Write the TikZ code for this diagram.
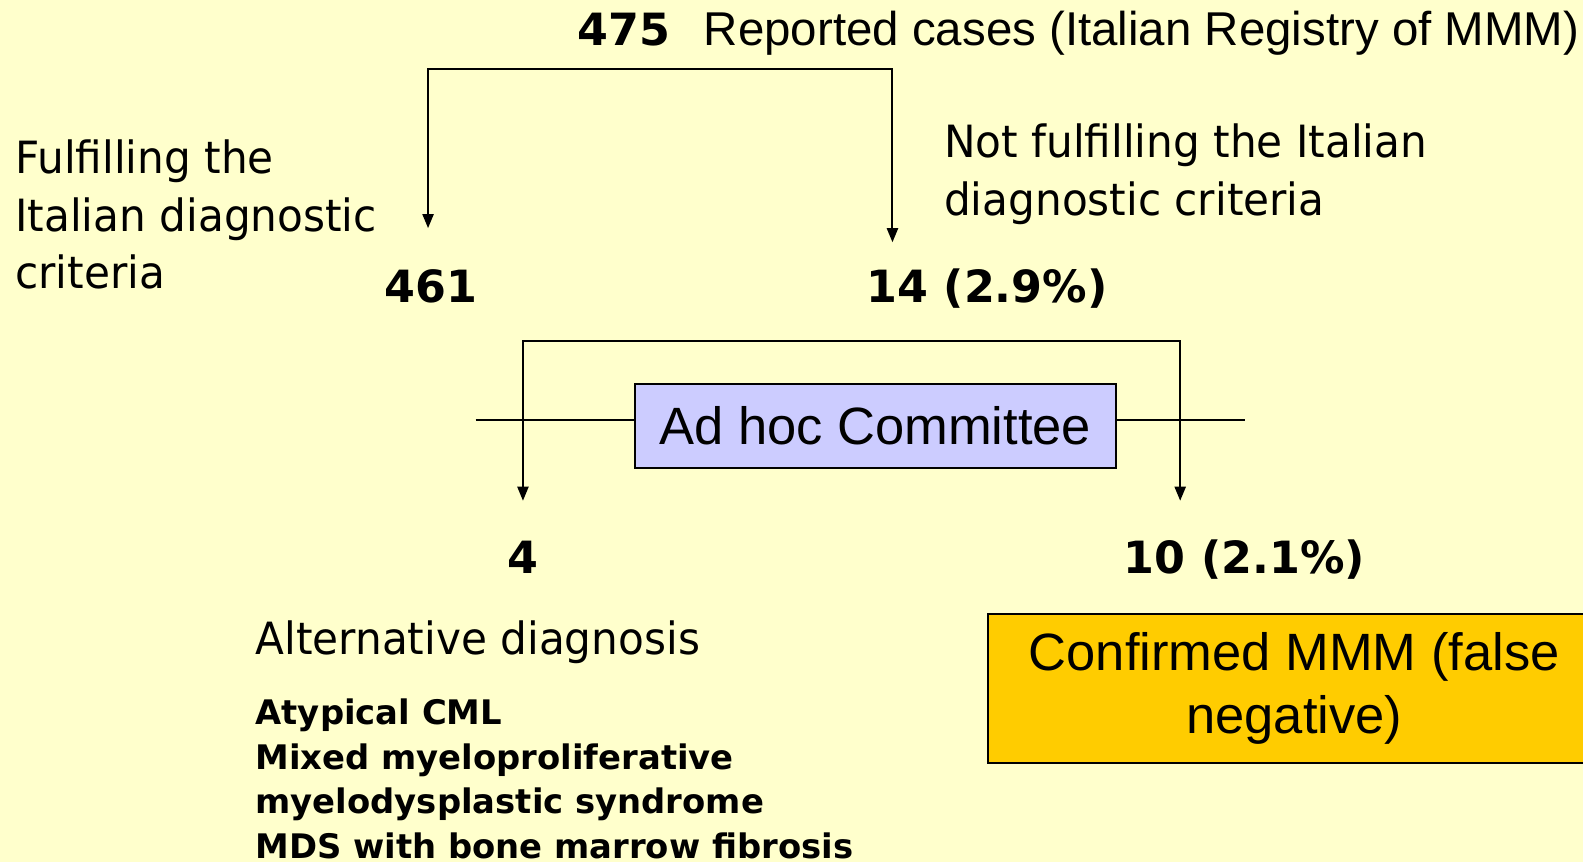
\documentclass[tikz,border=0pt]{standalone}
\usepackage{fontspec}
\setmainfont{DejaVu Sans}[FakeStretch=0.95]
\newfontfamily\heavyfont{DejaVu Sans Bold}
\newfontfamily\arialfont{Liberation Sans}
\usetikzlibrary{arrows.meta}
\definecolor{paleyellow}{HTML}{FFFFCC}
\definecolor{lavender}{HTML}{CCCCFF}
\definecolor{gold}{HTML}{FFCC00}

\begin{document}
\begin{tikzpicture}[x=1pt, y=-1pt,
    txt/.style={anchor=base west, inner sep=0pt, align=left, font=\fontsize{44}{57}\selectfont},
    num/.style={anchor=base west, inner sep=0pt, font=\fontsize{44}{57}\selectfont\heavyfont},
    arial/.style={font=\fontsize{52}{63}\selectfont\arialfont},
    box/.style={draw, line width=2pt, inner sep=0pt, align=center},
    flow/.style={{Triangle[length=14pt, width=11pt]}-{Triangle[length=14pt, width=11pt]}, line width=2pt},
    bar/.style={line width=2pt},
]

\useasboundingbox (0,0) rectangle (1568,854);
\clip (0,0) rectangle (1568,854);
\fill[paleyellow] (0,0) rectangle (1568,854);

\node[num] (n475) at (572,45) {475};
\node[txt, font=\fontsize{47}{57}\selectfont\arialfont] (reported) at (697,45) {Reported cases (Italian Registry of MMM)};
\node[txt] (fulfil) at (15,286) {Fulfilling the\\Italian diagnostic\\criteria};
\node[txt] (notfulfil) at (935,213) {Not fulfilling the Italian\\diagnostic criteria};
\node[num] (n461) at (381,300) {461};
\node[num] (n14) at (858,300) {14 (2.9\%)};
\node[box, fill=lavender, minimum width=477pt, minimum height=84pt, arial] (committee) at (867,422) {Ad hoc Committee};
\node[num] (n4) at (502,568) {4};
\node[num] (n10) at (1113,568) {10 (2.1\%)};
\node[txt] (altdiag) at (253,648) {Alternative diagnosis};
\node[txt, font=\fontsize{33.5}{44}\selectfont\heavyfont] (altlist) at (253,850) {Atypical CML\\Mixed myeloproliferative\\myelodysplastic syndrome\\MDS with bone marrow fibrosis};
\node[box, fill=gold, minimum width=606pt, minimum height=148pt, anchor=north west, arial] (confirmed) at (978,607) {Confirmed MMM (false\\negative)};

\coordinate (b1l) at (424,68);
\coordinate (b1r) at (884,68);
\coordinate (to461) at (424,226);
\coordinate (to14) at (884,240);
\coordinate (b2l) at (518,338);
\coordinate (b2r) at (1169,338);
\coordinate (to4) at (518,496);
\coordinate (to10) at (1169,496);
\coordinate (cl) at (471,416);
\coordinate (cr) at (1233,416);

\draw[bar] (cl) -- (committee.west |- cl);
\draw[bar] (committee.east |- cr) -- (cr);
\draw[flow] (to461) -- (b1l) -- (b1r) -- (to14);
\draw[flow] (to4) -- (b2l) -- (b2r) -- (to10);

\end{tikzpicture}
\end{document}
